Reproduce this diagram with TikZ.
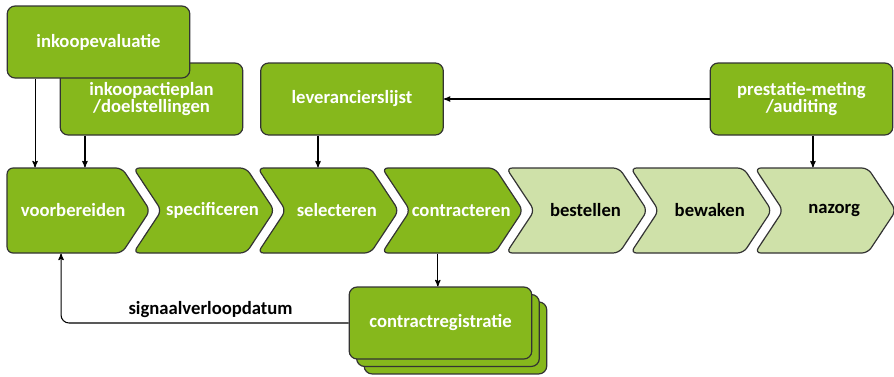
\documentclass[tikz,border=0pt]{standalone}
\usepackage{fontspec}
\setmainfont{Carlito}
\usetikzlibrary{arrows,positioning}
\usetikzlibrary{shapes.symbols,shadows}
\definecolor{groen}{HTML}{86B81C}
\definecolor{lichtgroen}{HTML}{CFE1A9}
\tikzset{
	%Define standard arrow tip
	>=stealth',
	%Define style for boxes
	blok/.style={
		rectangle,
		rounded corners=6pt,
		draw=black!80, line width=0.9pt,
		fill=groen,
		text=white,
		font=\fontsize{14}{12}\selectfont\bfseries,
		align=center,
		minimum width=137pt,
		minimum height=54pt},
	%Define style for chevrons
	stap/.style={
		signal,
		signal to=east,
		signal from=west,
		signal pointer angle=113,
		rounded corners=4.5pt,
		draw=black!80, line width=0.9pt,
		fill=groen,
		text=white,
		font=\fontsize{14}{12}\selectfont\bfseries,
		inner xsep=-15pt,
		execute at begin node=\hspace*{13pt},
		minimum width=105.75pt,
		minimum height=63.75pt},
	% later steps
	later/.style={fill=lichtgroen, text=black},
	% Define arrow style
	pil/.style={
		->,
		thick}
}

\begin{document}
\begin{tikzpicture}[x=0.75pt, y=-0.75pt, node distance=7.5pt]
	\useasboundingbox (0,0) rectangle (894,376);
	
	\node[blok] (inkoopactieplan) at (151.5,99) {inkoopactieplan\\/doelstellingen};
	\node[blok] (inkoopevaluatie) at (98.5,42) {inkoopevaluatie};
	\node[blok] (leverancierslijst) at (352,99) {leverancierslijst};
	\node[blok] (prestatiemeting) at (801.5,99) {prestatie-meting\\/auditing};
	
	\node[stap, signal from=nowhere, minimum width=107.25pt] (voorbereiden) at (64.5,210.5) {voorbereiden};
	\node[stap, right=of voorbereiden] (specificeren) {specificeren};
	\node[stap, right=of specificeren] (selecteren) {selecteren};
	\node[stap, right=of selecteren] (contracteren) {contracteren};
	\node[stap, later, right=of contracteren] (bestellen) {bestellen};
	\node[stap, later, right=of bestellen] (bewaken) {bewaken};
	\node[stap, later, right=of bewaken] (nazorg) {nazorg};
	
	\node[blok, double copy shadow={shadow xshift=5.6pt, shadow yshift=-5.6pt}] (contractregistratie) at (440.5,323) {contractregistratie};
	
	\draw[pil] ([xshift=-47.6pt]inkoopevaluatie.south) coordinate (a) -- (a |- voorbereiden.north);
	\draw[pil] ([xshift=-49.9pt]inkoopactieplan.south) coordinate (b) -- (b |- voorbereiden.north);
	\draw[pil] ([xshift=-25.5pt]leverancierslijst.south) coordinate (c) -- (c |- selecteren.north);
	\draw[pil] (prestatiemeting) -- (leverancierslijst);
	\draw[pil] ([xshift=-11pt]contracteren.south) coordinate (e) -- (e |- contractregistratie.north);
	\draw[pil] ([xshift=8.6pt]prestatiemeting.south) coordinate (d) -- (d |- nazorg.north);
	\draw[pil, rounded corners=6pt] (contractregistratie.west) -| node[pos=0.24, above, font=\fontsize{14}{12}\selectfont\bfseries] {signaalverloopdatum} ([xshift=-2.6pt]voorbereiden.south);
	
\end{tikzpicture}
\end{document}
